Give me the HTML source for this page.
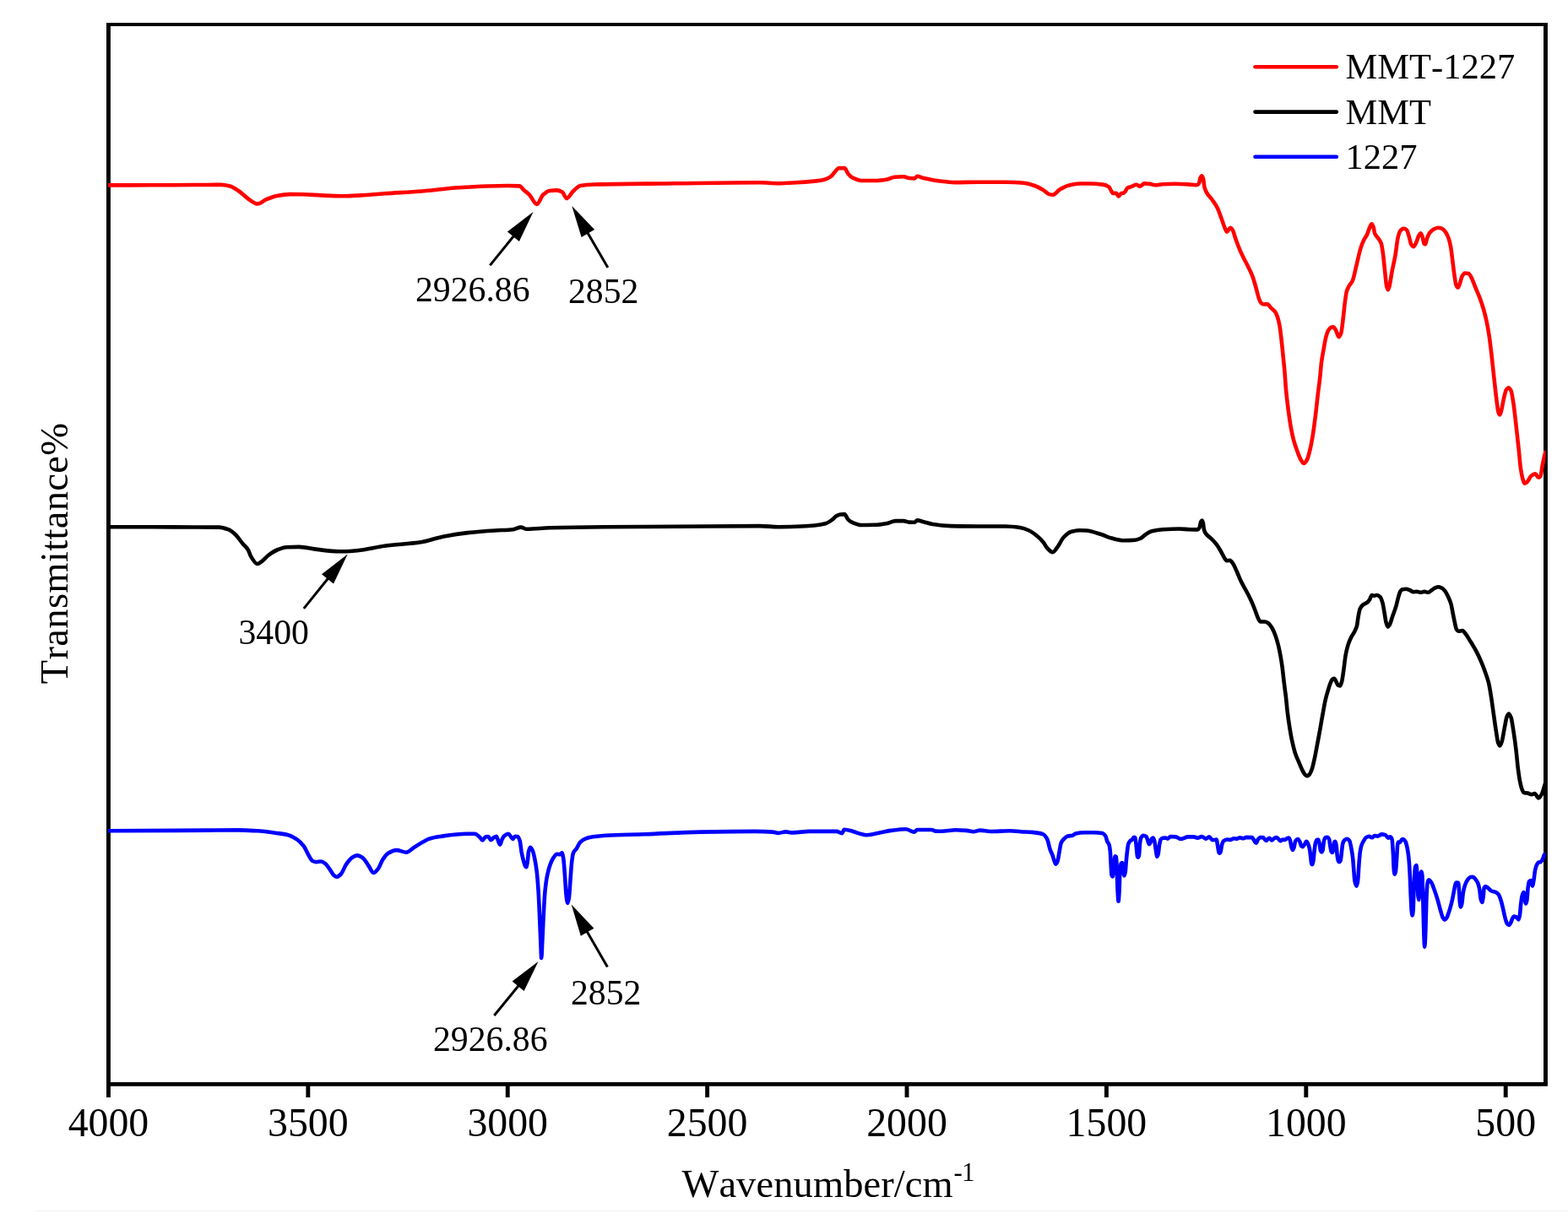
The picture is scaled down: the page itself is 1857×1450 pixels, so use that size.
<!DOCTYPE html>
<html lang="en">
<head>
<meta charset="utf-8">
<title>FTIR spectra: MMT-1227, MMT, 1227</title>
<style>
html,body{margin:0;padding:0;background:#fff;}
body{width:1857px;height:1450px;overflow:hidden;}
svg{display:block;}
text{font-family:"Liberation Serif",serif;fill:#000;font-kerning:none;}
.tick{font-size:47.8px;text-anchor:middle;}
.title{font-size:46.5px;}
.leg{font-size:42.5px;}
.ann{font-size:41.7px;}
.curve{fill:none;stroke-width:4.6;stroke-linejoin:round;stroke-linecap:butt;}
</style>
</head>
<body>
<svg width="1857" height="1450" viewBox="0 0 1857 1450">
<rect x="0" y="0" width="1857" height="1450" fill="#fff"/>
<rect x="42" y="1434" width="1815" height="1" fill="#f0f0f0"/>
<g stroke="#000" fill="none"><line x1="126.00" y1="28.95" x2="1832.91" y2="28.95" stroke-width="4.1"/><line x1="126.00" y1="1284.43" x2="1832.91" y2="1284.43" stroke-width="4.8"/><line x1="128.45" y1="28.95" x2="128.45" y2="1284.43" stroke-width="4.9"/><line x1="1830.46" y1="28.95" x2="1830.46" y2="1284.43" stroke-width="4.9"/><line x1="128.45" y1="1284.43" x2="128.45" y2="1300" stroke-width="4.9"/><line x1="364.84" y1="1284.43" x2="364.84" y2="1300" stroke-width="4.9"/><line x1="601.23" y1="1284.43" x2="601.23" y2="1300" stroke-width="4.9"/><line x1="837.62" y1="1284.43" x2="837.62" y2="1300" stroke-width="4.9"/><line x1="1074.01" y1="1284.43" x2="1074.01" y2="1300" stroke-width="4.9"/><line x1="1310.40" y1="1284.43" x2="1310.40" y2="1300" stroke-width="4.9"/><line x1="1546.79" y1="1284.43" x2="1546.79" y2="1300" stroke-width="4.9"/><line x1="1783.18" y1="1284.43" x2="1783.18" y2="1300" stroke-width="4.9"/></g>
<text class="tick" x="128.45" y="1346">4000</text>
<text class="tick" x="364.84" y="1346">3500</text>
<text class="tick" x="601.23" y="1346">3000</text>
<text class="tick" x="837.62" y="1346">2500</text>
<text class="tick" x="1074.01" y="1346">2000</text>
<text class="tick" x="1310.40" y="1346">1500</text>
<text class="tick" x="1546.79" y="1346">1000</text>
<text class="tick" x="1783.18" y="1346">500</text>
<defs><clipPath id="plotclip"><rect x="127.9" y="20" width="1702.6" height="1270"/></clipPath></defs><g class="curves" clip-path="url(#plotclip)"><path class="curve" stroke="#ff0000" d="M127.9,219.4C145.3,219.4 162.6,219.4 180.0,219.3C196.7,219.3 213.3,219.1 230.0,219.0C240.5,219.0 251.1,218.9 261.6,218.9C265.2,218.9 268.7,219.6 272.3,220.4C275.9,221.2 279.5,224.1 283.1,226.5C287.0,229.1 291.0,233.7 294.9,236.2C298.3,238.4 301.7,241.5 305.1,241.5C308.5,241.5 312.0,237.6 315.4,236.2C319.7,234.4 324.0,232.7 328.3,231.9C333.3,231.0 338.4,230.1 343.4,230.1C348.4,230.1 353.5,230.2 358.5,230.3C365.7,230.4 372.8,231.1 380.0,231.4C388.6,231.8 397.3,232.3 405.9,232.3C413.1,232.3 420.2,231.8 427.4,231.4C436.7,230.9 446.1,229.9 455.4,229.3C470.3,228.3 485.1,227.6 500.0,226.5C514.4,225.4 528.7,223.0 543.1,222.2C562.5,221.1 581.8,220.0 601.2,220.0C605.9,220.0 610.5,220.1 615.2,220.4C617.0,220.5 618.8,223.8 620.6,225.4C622.8,227.3 624.9,228.6 627.1,230.8C630.0,233.7 632.8,242.0 635.7,242.0C638.2,242.0 640.7,233.0 643.2,230.8C645.7,228.5 648.3,226.3 650.8,226.0C653.7,225.6 656.5,225.4 659.4,225.4C661.6,225.4 663.7,226.3 665.9,227.5C667.7,228.5 669.4,235.1 671.2,235.1C673.7,235.1 676.3,228.8 678.8,226.5C681.7,223.9 684.5,220.5 687.4,220.0C693.1,219.0 698.9,218.7 704.6,218.5C736.4,217.7 768.2,217.7 800.0,217.3C833.3,216.9 866.7,216.3 900.0,216.3C907.2,216.3 914.3,217.2 921.5,217.2C928.7,217.2 935.9,216.7 943.1,216.3C950.3,215.9 957.4,215.3 964.6,214.6C968.2,214.2 971.8,213.9 975.4,213.1C978.3,212.5 981.1,211.1 984.0,209.2C985.8,208.0 987.6,204.6 989.4,202.8C990.8,201.4 992.3,199.1 993.7,199.1C995.9,199.1 998.0,199.1 1000.2,199.1C1001.6,199.1 1003.1,204.4 1004.5,206.0C1006.3,208.1 1008.1,209.8 1009.9,210.7C1013.5,212.4 1017.0,214.0 1020.6,214.0C1025.6,214.0 1030.7,214.0 1035.7,214.0C1040.7,214.0 1045.8,213.3 1050.8,212.5C1053.7,212.0 1056.5,209.9 1059.4,209.7C1063.0,209.4 1066.6,209.2 1070.2,209.2C1072.3,209.2 1074.5,210.8 1076.6,211.0C1078.8,211.2 1080.9,211.4 1083.1,211.4C1084.2,211.4 1085.2,208.8 1086.3,208.8C1088.8,208.8 1091.4,210.4 1093.9,211.0C1099.6,212.3 1105.4,213.5 1111.1,214.2C1117.6,215.0 1124.0,216.1 1130.5,216.1C1139.8,216.1 1149.2,215.7 1158.5,215.7C1169.3,215.7 1180.0,215.7 1190.8,215.7C1198.0,215.7 1205.1,216.2 1212.3,216.8C1216.6,217.2 1221.0,218.5 1225.3,220.0C1228.9,221.2 1232.4,223.2 1236.0,225.4C1238.2,226.7 1240.3,229.5 1242.5,230.1C1243.9,230.5 1245.4,230.8 1246.8,230.8C1249.7,230.8 1252.5,225.9 1255.4,224.3C1259.0,222.2 1262.6,220.2 1266.2,219.4C1270.5,218.4 1274.8,217.5 1279.1,217.5C1283.0,217.5 1286.9,217.5 1290.8,217.5C1295.8,217.5 1300.8,217.9 1305.8,218.6C1308.3,218.9 1310.9,219.7 1313.4,221.5C1314.3,222.1 1315.2,225.0 1316.1,226.3C1316.8,227.3 1317.5,229.0 1318.2,229.0C1319.5,229.0 1320.7,228.8 1322.0,228.8C1322.9,228.8 1323.8,232.6 1324.7,232.6C1325.8,232.6 1326.8,229.3 1327.9,229.0C1329.0,228.7 1330.1,228.8 1331.2,228.5C1332.6,228.1 1334.1,223.3 1335.5,222.5C1337.1,221.6 1338.7,221.5 1340.3,220.9C1342.1,220.3 1343.9,218.8 1345.7,218.8C1347.1,218.8 1348.6,220.7 1350.0,220.7C1351.8,220.7 1353.6,217.4 1355.4,217.4C1357.6,217.4 1359.7,217.7 1361.9,217.9C1364.0,218.1 1366.2,219.3 1368.3,219.3C1371.2,219.3 1374.0,218.4 1376.9,218.2C1381.9,217.9 1387.0,217.7 1392.0,217.7C1397.0,217.7 1402.1,218.1 1407.1,218.4C1410.3,218.6 1413.6,219.3 1416.8,219.3C1417.9,219.3 1418.9,218.5 1420.0,217.2C1420.5,216.5 1421.1,211.9 1421.6,210.7C1422.1,209.5 1422.7,208.2 1423.2,208.2C1423.8,208.2 1424.3,209.6 1424.9,211.2C1425.4,212.7 1426.0,220.0 1426.5,222.0C1427.4,225.3 1428.3,226.9 1429.2,228.5C1431.2,231.9 1433.1,233.3 1435.1,236.0C1437.2,238.9 1439.4,241.6 1441.5,245.7C1443.3,249.2 1445.1,254.9 1446.9,259.7C1448.3,263.5 1449.8,268.5 1451.2,271.5C1451.8,272.8 1452.5,274.8 1453.1,274.8C1453.7,274.8 1454.4,272.8 1455.0,272.1C1455.7,271.2 1456.5,269.9 1457.2,269.9C1458.1,269.9 1459.0,271.3 1459.9,272.6C1461.0,274.2 1462.0,279.3 1463.1,282.3C1464.9,287.4 1466.7,292.1 1468.5,296.3C1469.8,299.4 1471.2,302.3 1472.5,305.0C1474.1,308.2 1475.6,310.8 1477.2,314.0C1479.2,318.0 1481.2,321.7 1483.2,326.9C1484.6,330.7 1486.1,335.9 1487.5,340.9C1488.6,344.6 1489.6,349.9 1490.7,352.8C1491.6,355.3 1492.5,357.9 1493.4,358.7C1494.5,359.7 1495.5,360.5 1496.6,360.5C1498.0,360.5 1499.5,360.3 1500.9,360.3C1502.3,360.3 1503.8,363.2 1505.2,364.6C1507.0,366.4 1508.8,367.3 1510.6,370.0C1511.5,371.3 1512.4,373.7 1513.3,376.5C1514.0,378.8 1514.8,382.1 1515.5,386.2C1516.2,390.1 1516.9,396.3 1517.6,402.3C1518.3,408.6 1519.1,416.6 1519.8,423.9C1520.3,429.2 1520.9,433.9 1521.4,440.0C1521.9,446.1 1522.5,455.7 1523.0,461.5C1523.9,471.2 1524.8,478.3 1525.7,485.2C1526.8,493.4 1527.8,501.0 1528.9,506.8C1530.0,512.8 1531.1,517.9 1532.2,521.9C1533.6,527.1 1535.1,531.0 1536.5,534.8C1537.9,538.6 1539.4,542.8 1540.8,545.0C1541.9,546.8 1543.1,549.0 1544.2,549.0C1545.4,549.0 1546.6,547.0 1547.8,545.0C1549.0,542.9 1550.3,537.7 1551.5,532.6C1552.6,528.1 1553.7,522.1 1554.8,515.4C1555.9,508.9 1556.9,500.3 1558.0,491.7C1559.1,483.1 1560.1,472.5 1561.2,463.7C1561.9,458.2 1562.5,454.0 1563.2,448.0C1563.8,442.6 1564.4,433.8 1565.0,429.2C1565.9,422.2 1566.8,418.1 1567.7,413.1C1568.6,408.1 1569.5,402.4 1570.4,399.1C1571.3,395.8 1572.2,393.0 1573.1,391.5C1574.2,389.7 1575.2,388.2 1576.3,387.8C1577.2,387.5 1578.1,387.2 1579.0,387.2C1580.1,387.2 1581.1,389.7 1582.2,391.5C1583.3,393.4 1584.4,399.1 1585.5,399.1C1586.4,399.1 1587.3,397.1 1588.2,394.8C1589.1,392.5 1590.0,382.7 1590.9,375.4C1591.5,370.8 1592.0,364.4 1592.6,360.0C1593.3,354.4 1594.1,348.1 1594.8,345.5C1595.7,342.3 1596.6,340.8 1597.5,339.1C1598.9,336.4 1600.4,335.7 1601.8,332.6C1603.3,329.4 1604.7,321.2 1606.2,315.4C1608.0,308.4 1609.7,299.5 1611.5,293.9C1612.6,290.4 1613.7,287.5 1614.8,285.2C1616.2,282.2 1617.7,280.8 1619.1,277.7C1620.2,275.4 1621.2,271.3 1622.3,269.1C1623.0,267.6 1623.8,265.3 1624.5,265.3C1625.2,265.3 1625.9,267.2 1626.6,269.1C1627.1,270.5 1627.7,275.3 1628.2,276.6C1629.5,279.6 1630.7,280.0 1632.0,282.0C1633.3,284.0 1634.5,285.0 1635.8,288.5C1636.5,290.4 1637.2,295.4 1637.9,300.3C1638.6,305.4 1639.4,314.2 1640.1,320.8C1640.8,327.1 1641.5,336.4 1642.2,339.1C1642.8,341.3 1643.3,343.4 1643.9,343.4C1644.4,343.4 1645.0,341.0 1645.5,339.1C1646.6,335.3 1647.6,326.4 1648.7,320.8C1650.0,314.2 1651.2,309.7 1652.5,302.5C1653.6,296.5 1654.6,285.0 1655.7,280.9C1656.6,277.4 1657.5,274.5 1658.4,273.4C1659.7,271.9 1660.9,270.7 1662.2,270.7C1663.4,270.7 1664.7,271.3 1665.9,272.3C1666.8,273.0 1667.7,277.0 1668.6,279.8C1669.5,282.6 1670.4,288.1 1671.3,289.5C1672.2,290.9 1673.1,292.2 1674.0,292.2C1675.1,292.2 1676.1,289.4 1677.2,287.4C1678.3,285.3 1679.4,280.5 1680.5,278.8C1681.2,277.7 1681.9,276.4 1682.6,276.4C1683.3,276.4 1684.1,278.8 1684.8,280.9C1685.3,282.5 1685.9,287.9 1686.4,288.5C1686.9,289.1 1687.5,289.5 1688.0,289.5C1688.7,289.5 1689.5,283.9 1690.2,282.0C1691.3,279.2 1692.3,276.8 1693.4,275.5C1695.2,273.4 1697.0,272.0 1698.8,271.2C1700.2,270.5 1701.7,269.8 1703.1,269.8C1704.5,269.8 1706.0,270.2 1707.4,270.7C1708.8,271.2 1710.3,272.7 1711.7,274.5C1713.0,276.1 1714.2,278.6 1715.5,282.0C1716.4,284.4 1717.3,288.0 1718.2,292.8C1718.9,296.5 1719.6,303.5 1720.3,308.9C1721.0,314.6 1721.8,321.4 1722.5,326.2C1723.2,330.8 1723.9,336.5 1724.6,338.0C1725.3,339.4 1725.9,340.7 1726.6,340.7C1727.4,340.7 1728.1,337.8 1728.9,335.9C1729.8,333.6 1730.7,328.7 1731.6,327.2C1732.7,325.3 1733.8,323.5 1734.9,323.5C1736.3,323.5 1737.8,323.7 1739.2,324.0C1740.4,324.3 1741.7,327.1 1742.9,329.4C1744.3,332.0 1745.8,336.7 1747.2,340.2C1749.0,344.6 1750.8,348.3 1752.6,353.1C1754.0,356.9 1755.5,361.1 1756.9,366.0C1758.0,369.8 1759.1,373.9 1760.2,378.9C1761.4,384.2 1762.5,390.5 1763.7,398.2C1764.7,404.8 1765.7,413.8 1766.7,422.5C1767.7,431.4 1768.8,442.1 1769.8,451.3C1770.8,460.2 1771.8,469.9 1772.8,477.1C1773.4,481.4 1774.0,486.9 1774.6,488.5C1775.2,490.1 1775.7,491.5 1776.3,491.5C1776.9,491.5 1777.5,488.4 1778.1,486.2C1779.1,482.5 1780.2,475.0 1781.2,471.0C1782.2,467.1 1783.2,462.5 1784.2,461.2C1785.0,460.2 1785.7,459.2 1786.5,459.2C1787.5,459.2 1788.5,460.8 1789.5,462.7C1790.5,464.6 1791.5,472.1 1792.5,478.6C1793.5,485.3 1794.6,495.4 1795.6,504.4C1796.6,513.1 1797.6,522.2 1798.6,531.7C1799.4,539.0 1800.1,549.2 1800.9,554.5C1801.7,559.8 1802.4,563.8 1803.2,566.6C1803.9,569.3 1804.7,572.7 1805.4,572.7C1806.4,572.7 1807.5,571.9 1808.5,571.1C1810.0,570.0 1811.5,565.6 1813.0,564.3C1814.8,562.8 1816.5,561.3 1818.3,561.3C1819.6,561.3 1820.8,565.8 1822.1,565.8C1822.9,565.8 1823.6,565.2 1824.4,564.3C1825.2,563.4 1825.9,555.4 1826.7,551.4C1827.4,547.6 1828.2,543.9 1828.9,540.8C1829.5,538.3 1830.1,536.3 1830.7,534.0"/><path class="curve" stroke="#000000" d="M127.9,624.2C145.3,624.2 162.6,624.3 180.0,624.3C196.7,624.3 213.3,624.4 230.0,624.5C239.8,624.5 249.6,624.5 259.4,624.6C263.0,624.6 266.6,625.9 270.2,627.2C273.1,628.2 275.9,630.6 278.8,633.2C281.7,635.8 284.5,640.6 287.4,644.0C289.6,646.6 291.7,648.0 293.9,651.5C295.0,653.2 296.0,657.4 297.1,659.1C299.7,663.3 302.2,668.0 304.8,668.0C306.5,668.0 308.3,666.3 310.0,665.1C312.5,663.4 315.1,659.9 317.6,658.0C321.2,655.3 324.7,652.9 328.3,651.5C331.9,650.1 335.5,648.5 339.1,648.3C344.1,648.0 349.2,647.9 354.2,647.9C361.4,647.9 368.5,650.1 375.7,650.9C384.3,651.9 393.0,653.3 401.6,653.3C408.8,653.3 415.9,652.7 423.1,652.2C433.9,651.4 444.6,648.2 455.4,646.8C470.3,644.8 485.1,644.3 500.0,641.9C508.6,640.5 517.2,637.0 525.8,635.4C535.2,633.6 544.5,632.1 553.9,631.1C564.7,630.0 575.4,629.2 586.2,628.5C593.4,628.0 600.5,628.0 607.7,627.2C610.8,626.9 613.9,624.6 617.0,624.6C619.3,624.6 621.6,626.8 623.9,626.8C632.9,626.8 641.8,625.6 650.8,625.3C672.3,624.7 693.9,624.4 715.4,624.2C744.1,624.0 772.9,624.0 801.6,623.8C834.4,623.6 867.2,623.1 900.0,623.1C907.2,623.1 914.3,624.2 921.5,624.2C928.7,624.2 935.9,624.0 943.1,623.8C950.3,623.6 957.4,623.2 964.6,622.5C968.9,622.1 973.2,621.5 977.5,620.3C980.0,619.6 982.6,617.8 985.1,616.0C986.9,614.8 988.7,612.3 990.5,611.3C991.9,610.5 993.4,609.7 994.8,609.5C996.6,609.3 998.4,609.1 1000.2,609.1C1001.6,609.1 1003.1,614.3 1004.5,615.6C1006.3,617.3 1008.1,618.4 1009.9,619.2C1013.1,620.5 1016.3,622.0 1019.5,622.0C1024.9,622.0 1030.3,621.9 1035.7,621.8C1040.7,621.7 1045.8,620.8 1050.8,619.9C1054.0,619.3 1057.3,617.1 1060.5,617.1C1063.7,617.1 1067.0,617.1 1070.2,617.1C1072.3,617.1 1074.5,618.5 1076.6,618.6C1078.8,618.7 1080.9,618.8 1083.1,618.8C1084.2,618.8 1085.2,616.4 1086.3,616.4C1088.8,616.4 1091.4,617.6 1093.9,618.2C1097.5,619.1 1101.0,620.5 1104.6,621.0C1111.8,622.1 1119.0,622.9 1126.2,623.1C1137.0,623.3 1147.7,623.5 1158.5,623.5C1169.3,623.5 1180.0,623.5 1190.8,623.5C1196.5,623.5 1202.3,624.2 1208.0,625.0C1211.6,625.5 1215.2,626.9 1218.8,628.5C1221.7,629.8 1224.5,632.0 1227.4,634.3C1230.3,636.6 1233.1,639.4 1236.0,642.9C1237.4,644.7 1238.9,648.0 1240.3,649.4C1242.5,651.6 1244.6,654.1 1246.8,654.1C1248.6,654.1 1250.4,650.6 1252.2,648.3C1254.7,645.1 1257.2,639.1 1259.7,636.5C1262.6,633.5 1265.4,630.8 1268.3,630.0C1271.9,629.0 1275.4,628.2 1279.0,628.2C1281.5,628.2 1284.0,628.3 1286.5,628.5C1292.6,628.9 1298.7,631.4 1304.8,633.3C1308.7,634.5 1312.7,636.6 1316.6,637.6C1321.6,638.8 1326.7,640.3 1331.7,640.3C1336.0,640.3 1340.3,640.1 1344.6,639.8C1346.8,639.6 1348.9,638.6 1351.1,637.6C1352.9,636.7 1354.7,634.5 1356.5,633.3C1359.0,631.7 1361.5,630.0 1364.0,629.3C1368.3,628.2 1372.6,627.5 1376.9,627.2C1383.4,626.8 1389.8,626.5 1396.3,626.5C1400.6,626.5 1404.9,627.1 1409.2,627.2C1412.3,627.3 1415.3,627.4 1418.4,627.4C1419.1,627.4 1419.8,626.4 1420.5,625.2C1421.1,624.2 1421.6,619.2 1422.2,618.2C1422.6,617.4 1423.1,616.6 1423.5,616.6C1424.0,616.6 1424.4,618.1 1424.9,619.8C1425.2,621.0 1425.6,626.2 1425.9,627.4C1426.6,630.1 1427.4,631.2 1428.1,632.2C1430.1,634.9 1432.0,635.7 1434.0,637.6C1436.2,639.7 1438.3,641.8 1440.5,644.6C1442.3,646.9 1444.1,650.1 1445.9,653.2C1447.5,655.9 1449.1,659.8 1450.7,661.9C1451.4,662.8 1452.2,664.2 1452.9,664.2C1454.1,664.2 1455.4,663.8 1456.6,663.8C1457.7,663.8 1458.8,665.7 1459.9,667.2C1461.7,669.6 1463.4,674.1 1465.2,678.0C1466.7,681.3 1468.2,685.5 1469.7,688.6C1471.9,693.1 1474.0,696.3 1476.2,700.5C1478.3,704.6 1480.5,708.6 1482.6,713.4C1484.0,716.6 1485.5,720.5 1486.9,724.2C1488.0,727.0 1489.1,730.8 1490.2,732.8C1491.1,734.4 1491.9,736.5 1492.8,736.5C1494.4,736.5 1496.1,736.5 1497.7,736.5C1499.1,736.5 1500.6,737.3 1502.0,738.2C1503.4,739.1 1504.9,741.2 1506.3,743.5C1507.7,745.8 1509.2,749.3 1510.6,753.2C1511.7,756.1 1512.7,759.8 1513.8,764.0C1514.7,767.6 1515.6,772.0 1516.5,776.9C1517.2,780.9 1518.0,785.5 1518.7,790.9C1519.2,794.9 1519.8,800.4 1520.3,804.9C1520.8,809.4 1521.4,813.7 1521.9,817.9C1522.3,820.8 1522.6,823.1 1523.0,826.2C1523.5,830.8 1524.1,837.8 1524.6,842.3C1525.5,850.0 1526.4,856.0 1527.3,861.7C1528.2,867.4 1529.1,872.6 1530.0,876.8C1531.3,882.7 1532.5,888.0 1533.8,891.9C1535.4,896.8 1537.0,899.9 1538.6,903.7C1540.0,907.1 1541.5,910.8 1542.9,913.4C1543.8,915.1 1544.7,916.8 1545.6,917.7C1546.3,918.4 1547.1,919.3 1547.8,919.3C1548.7,919.3 1549.6,918.5 1550.5,917.7C1551.6,916.7 1552.6,914.1 1553.7,911.2C1554.8,908.3 1555.8,903.1 1556.9,898.3C1558.0,893.3 1559.1,886.9 1560.2,881.1C1561.3,875.5 1562.3,869.8 1563.4,863.9C1564.5,858.0 1565.5,851.3 1566.6,845.5C1567.7,839.5 1568.8,833.0 1569.9,828.3C1570.8,824.6 1571.6,821.8 1572.5,818.9C1573.4,815.9 1574.3,812.5 1575.2,810.3C1576.1,808.1 1577.0,805.6 1577.9,804.9C1578.6,804.4 1579.4,803.9 1580.1,803.9C1581.0,803.9 1581.9,806.7 1582.8,808.2C1583.5,809.4 1584.2,811.6 1584.9,811.9C1585.6,812.2 1586.4,812.5 1587.1,812.5C1587.8,812.5 1588.5,809.7 1589.2,807.1C1589.9,804.4 1590.7,798.2 1591.4,793.1C1592.1,788.2 1592.8,780.9 1593.5,776.9C1594.4,771.8 1595.3,768.0 1596.2,765.1C1597.5,761.0 1598.7,758.0 1600.0,755.4C1601.4,752.4 1602.9,750.8 1604.3,747.9C1605.2,746.1 1606.1,744.7 1607.0,741.4C1607.5,739.4 1608.1,733.5 1608.6,730.6C1609.3,726.6 1610.1,722.5 1610.8,720.9C1611.9,718.6 1612.9,717.5 1614.0,716.6C1615.8,715.1 1617.6,715.1 1619.4,713.6C1620.3,712.9 1621.2,711.6 1622.1,710.2C1623.0,708.8 1623.9,705.0 1624.8,705.0C1625.7,705.0 1626.6,705.7 1627.5,705.7C1628.6,705.7 1629.7,705.0 1630.8,705.0C1632.1,705.0 1633.4,706.1 1634.7,707.4C1635.6,708.3 1636.5,711.1 1637.4,714.2C1638.1,716.7 1638.9,722.0 1639.6,726.0C1640.3,729.8 1641.0,735.5 1641.7,737.8C1642.4,740.0 1643.0,742.6 1643.7,742.6C1644.4,742.6 1645.1,741.2 1645.8,740.0C1647.0,738.0 1648.1,733.2 1649.3,729.8C1650.6,726.0 1652.0,722.8 1653.3,718.4C1654.3,715.1 1655.3,709.9 1656.3,706.6C1657.0,704.2 1657.8,701.4 1658.5,700.4C1659.3,699.3 1660.1,698.4 1660.9,698.2C1662.3,697.9 1663.8,697.7 1665.2,697.7C1666.6,697.7 1668.1,698.5 1669.5,699.0C1671.0,699.6 1672.4,701.2 1673.9,701.2C1675.3,701.2 1676.8,700.9 1678.2,700.9C1679.6,700.9 1681.1,701.8 1682.5,701.8C1683.9,701.8 1685.4,700.9 1686.8,700.9C1688.4,700.9 1690.0,701.8 1691.6,701.8C1692.9,701.8 1694.1,700.1 1695.4,699.3C1696.8,698.3 1698.3,697.0 1699.7,696.4C1701.0,695.9 1702.2,695.3 1703.5,695.3C1704.7,695.3 1706.0,695.9 1707.2,696.4C1708.6,697.0 1710.1,698.6 1711.5,700.4C1712.8,702.0 1714.0,704.7 1715.3,707.4C1716.4,709.8 1717.5,712.1 1718.6,716.0C1719.3,718.5 1720.0,723.3 1720.7,726.8C1721.4,730.5 1722.2,734.3 1722.9,737.5C1723.6,740.5 1724.3,744.5 1725.0,745.6C1725.7,746.8 1726.5,747.8 1727.2,747.8C1728.8,747.8 1730.4,747.0 1732.0,747.0C1733.3,747.0 1734.5,749.4 1735.8,751.0C1737.8,753.4 1739.7,757.0 1741.7,760.2C1744.2,764.3 1746.7,768.3 1749.2,773.1C1751.0,776.6 1752.8,780.6 1754.6,784.9C1756.0,788.1 1757.3,791.7 1758.7,795.5C1760.1,799.5 1761.6,803.0 1763.0,808.8C1764.0,812.8 1765.0,819.3 1766.0,825.5C1767.0,831.7 1768.0,839.7 1769.0,846.7C1770.0,853.9 1771.1,861.7 1772.1,868.0C1772.8,872.5 1773.6,878.2 1774.3,880.1C1775.0,881.8 1775.6,883.5 1776.3,883.5C1777.1,883.5 1777.8,880.8 1778.6,878.6C1779.7,875.4 1780.8,867.3 1781.9,861.9C1782.8,857.5 1783.7,851.1 1784.6,849.0C1785.3,847.3 1786.1,845.5 1786.8,845.5C1787.7,845.5 1788.6,847.6 1789.5,849.8C1790.5,852.3 1791.5,860.2 1792.5,866.5C1793.5,873.0 1794.6,880.5 1795.6,889.2C1796.3,895.4 1797.1,904.8 1797.8,910.5C1798.6,916.5 1799.3,921.8 1800.1,925.6C1800.9,929.4 1801.6,932.8 1802.4,934.7C1803.2,936.6 1803.9,938.8 1804.7,939.0C1806.2,939.4 1807.7,939.3 1809.2,939.6C1810.7,939.9 1812.3,941.1 1813.8,941.1C1815.1,941.1 1816.3,940.0 1817.6,940.0C1819.1,940.0 1820.6,945.4 1822.1,945.4C1823.4,945.4 1824.6,943.0 1825.9,940.8C1826.9,939.0 1827.9,934.8 1828.9,931.7C1829.5,929.8 1830.1,927.9 1830.7,926.0"/><path class="curve" stroke="#0000ff" d="M127.9,984.3C154.5,984.2 181.1,984.1 207.7,983.9C232.8,983.8 258.0,983.4 283.1,983.4C290.3,983.4 297.4,983.9 304.6,984.3C311.8,984.7 319.0,985.7 326.2,986.7C331.2,987.4 336.2,987.9 341.2,989.2C344.8,990.1 348.4,992.2 352.0,994.6C354.5,996.3 357.1,998.9 359.6,1002.2C361.7,1005.0 363.9,1010.6 366.0,1014.0C367.4,1016.3 368.9,1019.4 370.3,1020.0C371.7,1020.6 373.2,1021.1 374.6,1021.1C376.4,1021.1 378.2,1020.5 380.0,1020.5C381.8,1020.5 383.6,1021.8 385.4,1023.1C387.2,1024.4 389.0,1027.7 390.8,1030.2C392.2,1032.2 393.7,1035.4 395.1,1036.6C396.3,1037.6 397.6,1038.8 398.8,1038.8C400.4,1038.8 402.1,1037.1 403.7,1035.5C405.9,1033.4 408.0,1026.8 410.2,1023.7C412.3,1020.7 414.5,1017.5 416.6,1016.2C418.8,1014.8 420.9,1013.4 423.1,1013.4C425.3,1013.4 427.4,1014.8 429.6,1016.2C431.7,1017.6 433.9,1021.9 436.0,1024.8C438.2,1027.8 440.3,1034.0 442.5,1034.0C444.3,1034.0 446.1,1031.3 447.9,1029.1C449.7,1026.9 451.5,1021.0 453.3,1018.3C455.4,1015.1 457.6,1012.1 459.7,1010.8C462.9,1008.9 466.2,1007.1 469.4,1007.1C473.4,1007.1 477.3,1009.7 481.3,1009.7C484.2,1009.7 487.0,1006.1 489.9,1004.3C493.5,1002.0 497.1,999.4 500.7,997.5C503.7,995.9 506.7,994.1 509.7,993.3C514.0,992.1 518.3,991.5 522.6,990.8C527.8,990.0 533.0,989.1 538.2,988.7C542.9,988.3 547.7,987.8 552.4,987.8C555.6,987.8 558.9,987.8 562.1,987.8C564.0,987.8 566.0,989.8 567.9,991.4C569.1,992.4 570.3,995.5 571.5,995.5C572.7,995.5 573.8,991.7 575.0,991.4C576.1,991.2 577.1,991.0 578.2,991.0C579.3,991.0 580.4,995.2 581.5,995.2C582.6,995.2 583.6,993.0 584.7,992.3C585.8,991.6 586.8,990.8 587.9,990.8C588.8,990.8 589.6,995.6 590.5,997.5C591.1,998.7 591.6,1000.7 592.2,1000.7C592.9,1000.7 593.7,996.4 594.4,994.9C595.3,993.1 596.1,991.1 597.0,990.4C598.7,989.0 600.4,987.8 602.1,987.8C603.2,987.8 604.3,990.4 605.4,991.7C606.0,992.4 606.7,993.9 607.3,993.9C608.2,993.9 609.0,990.8 609.9,990.8C611.0,990.8 612.0,990.9 613.1,991.0C614.0,991.1 614.8,993.4 615.7,996.2C616.3,998.2 617.0,1005.6 617.6,1009.1C618.3,1012.7 618.9,1015.6 619.6,1018.2C620.2,1020.6 620.9,1023.2 621.5,1024.6C622.0,1025.8 622.6,1027.2 623.1,1027.2C623.7,1027.2 624.2,1023.9 624.8,1020.7C625.2,1018.5 625.6,1010.8 626.0,1009.1C626.7,1006.2 627.3,1003.9 628.0,1003.9C628.9,1003.9 629.7,1005.6 630.6,1007.2C631.5,1008.8 632.3,1012.9 633.2,1016.9C634.0,1020.8 634.9,1025.5 635.7,1032.4C636.4,1038.0 637.0,1046.4 637.7,1056.9C638.2,1064.8 638.7,1077.9 639.2,1089.2C639.6,1097.5 639.9,1106.7 640.3,1115.1C640.6,1121.9 640.9,1135.0 641.2,1135.0C641.6,1135.0 641.9,1122.3 642.3,1115.1C642.7,1107.2 643.1,1096.9 643.5,1089.2C644.1,1077.0 644.8,1063.6 645.4,1056.9C646.3,1047.7 647.1,1041.8 648.0,1037.5C649.3,1031.0 650.6,1026.6 651.9,1023.3C653.2,1020.0 654.5,1017.4 655.8,1015.6C657.1,1013.9 658.3,1011.7 659.6,1011.7C660.7,1011.7 661.8,1012.3 662.9,1012.3C663.8,1012.3 664.6,1010.4 665.5,1010.4C666.1,1010.4 666.8,1014.3 667.4,1018.2C667.9,1021.5 668.5,1030.5 669.0,1037.5C669.5,1044.5 670.1,1056.6 670.6,1060.8C671.2,1065.3 671.7,1069.9 672.3,1069.9C672.8,1069.9 673.4,1066.7 673.9,1063.4C674.4,1060.3 674.9,1050.5 675.4,1044.0C676.0,1036.7 676.5,1026.7 677.1,1022.0C677.7,1016.7 678.4,1011.9 679.0,1010.4C680.3,1007.3 681.6,1007.2 682.9,1005.2C684.2,1003.2 685.5,999.5 686.8,998.1C688.9,995.9 691.1,994.4 693.2,993.6C696.2,992.4 699.3,991.8 702.3,991.3C707.3,990.5 712.2,990.0 717.2,989.7C733.0,988.8 748.8,988.8 764.6,988.2C786.1,987.4 807.7,986.0 829.2,985.6C850.8,985.2 872.3,984.9 893.9,984.9C901.1,984.9 908.2,985.1 915.4,985.6C917.6,985.7 919.7,986.9 921.9,986.9C924.8,986.9 927.6,985.4 930.5,985.4C933.4,985.4 936.2,986.4 939.1,986.4C945.6,986.4 952.0,984.9 958.5,984.9C969.3,984.9 980.0,984.9 990.8,984.9C992.9,984.9 995.1,987.1 997.2,987.1C998.1,987.1 998.9,982.8 999.8,982.8C1003.3,982.8 1006.7,984.0 1010.2,984.9C1013.1,985.6 1015.9,987.0 1018.8,987.7C1021.3,988.3 1023.8,989.2 1026.3,989.2C1029.5,989.2 1032.8,988.3 1036.0,987.7C1042.5,986.6 1048.9,984.7 1055.4,983.9C1061.1,983.2 1066.9,982.3 1072.6,982.3C1076.1,982.3 1079.5,985.6 1083.0,985.6C1084.1,985.6 1085.1,983.0 1086.2,983.0C1091.9,983.0 1097.6,983.0 1103.3,983.0C1105.0,983.0 1106.7,984.5 1108.4,984.6C1110.6,984.7 1112.7,984.8 1114.9,984.8C1120.5,984.8 1126.1,983.3 1131.7,983.3C1136.0,983.3 1140.3,983.6 1144.6,983.9C1147.4,984.1 1150.2,985.2 1153.0,985.2C1155.6,985.2 1158.2,983.6 1160.8,983.6C1164.9,983.6 1169.0,985.0 1173.1,985.0C1180.8,985.0 1188.6,984.2 1196.3,984.2C1200.6,984.2 1204.9,984.9 1209.2,985.2C1213.5,985.5 1217.9,985.5 1222.2,985.9C1226.5,986.3 1230.8,986.7 1235.1,988.1C1236.8,988.7 1238.6,991.1 1240.3,994.3C1241.4,996.3 1242.4,1002.8 1243.5,1005.9C1244.6,1009.0 1245.6,1010.7 1246.7,1013.7C1247.4,1015.6 1248.0,1018.5 1248.7,1020.1C1249.3,1021.6 1250.0,1023.7 1250.6,1023.7C1251.2,1023.7 1251.9,1021.8 1252.5,1020.1C1253.2,1018.3 1253.8,1013.3 1254.5,1009.8C1255.1,1006.4 1255.8,1001.1 1256.4,999.4C1257.3,997.1 1258.1,995.9 1259.0,994.9C1260.9,992.7 1262.9,990.8 1264.8,990.4C1266.5,990.1 1268.3,990.1 1270.0,989.8C1271.3,989.5 1272.6,987.9 1273.9,987.6C1277.3,986.8 1280.8,986.3 1284.2,986.3C1287.8,986.3 1291.4,986.3 1295.0,986.3C1298.4,986.3 1301.9,986.5 1305.3,987.1C1306.6,987.3 1307.9,988.5 1309.2,990.2C1309.9,991.2 1310.7,995.4 1311.4,997.0C1312.1,998.5 1312.8,998.6 1313.5,1000.5C1313.9,1001.7 1314.4,1004.3 1314.8,1008.3C1315.1,1011.1 1315.4,1019.7 1315.7,1024.6C1316.0,1029.0 1316.2,1035.9 1316.5,1036.7C1316.9,1037.8 1317.2,1038.4 1317.6,1038.4C1318.0,1038.4 1318.3,1035.9 1318.7,1033.2C1319.0,1031.0 1319.3,1022.6 1319.6,1020.3C1320.0,1017.3 1320.4,1014.3 1320.8,1014.3C1321.2,1014.3 1321.5,1014.6 1321.9,1015.1C1322.2,1015.5 1322.4,1023.2 1322.7,1028.9C1323.0,1035.3 1323.3,1049.4 1323.6,1054.8C1323.9,1060.8 1324.3,1067.7 1324.6,1067.7C1324.9,1067.7 1325.3,1060.7 1325.6,1054.8C1325.9,1050.1 1326.1,1036.8 1326.4,1033.2C1326.8,1027.8 1327.2,1023.4 1327.6,1022.9C1328.1,1022.3 1328.5,1022.0 1329.0,1022.0C1329.4,1022.0 1329.9,1028.8 1330.3,1031.5C1330.7,1033.8 1331.0,1037.5 1331.4,1037.5C1331.8,1037.5 1332.3,1035.5 1332.7,1033.2C1333.1,1031.3 1333.4,1024.3 1333.8,1020.3C1334.2,1015.6 1334.7,1010.6 1335.1,1007.4C1335.5,1004.2 1336.0,1000.8 1336.4,999.6C1337.1,997.7 1337.8,996.9 1338.5,996.2C1339.4,995.4 1340.2,995.3 1341.1,994.5C1341.7,994.0 1342.2,991.9 1342.8,991.9C1343.4,991.9 1343.9,992.0 1344.5,992.3C1344.9,992.5 1345.4,999.3 1345.8,1003.1C1346.2,1006.6 1346.6,1013.1 1347.0,1014.3C1347.3,1015.1 1347.5,1015.8 1347.8,1015.8C1348.2,1015.8 1348.5,1014.7 1348.9,1013.4C1349.3,1011.9 1349.7,1001.7 1350.1,998.8C1350.5,995.7 1351.0,993.1 1351.4,992.3C1352.3,990.7 1353.1,989.7 1354.0,989.7C1355.2,989.7 1356.3,990.2 1357.5,991.0C1358.1,991.4 1358.6,993.8 1359.2,995.3C1359.8,996.8 1360.3,1000.1 1360.9,1000.1C1361.5,1000.1 1362.0,999.0 1362.6,997.9C1363.0,997.1 1363.5,994.0 1363.9,993.6C1364.5,993.0 1365.1,992.6 1365.7,992.6C1366.3,992.6 1366.8,994.9 1367.4,997.0C1368.0,999.1 1368.5,1005.1 1369.1,1008.3C1369.5,1010.7 1370.0,1014.7 1370.4,1014.7C1370.8,1014.7 1371.3,1013.2 1371.7,1011.7C1372.1,1010.2 1372.6,1003.8 1373.0,1001.4C1373.6,998.3 1374.1,995.3 1374.7,994.5C1375.4,993.5 1376.2,992.7 1376.9,992.7C1378.0,992.6 1379.2,992.6 1380.3,992.6C1381.2,992.6 1382.0,993.6 1382.9,993.6C1384.0,993.6 1385.2,991.0 1386.3,991.0C1388.3,991.0 1390.4,991.2 1392.4,991.4C1394.5,991.6 1396.7,993.9 1398.8,993.9C1401.5,993.9 1404.3,991.4 1407.0,991.4C1409.3,991.4 1411.6,991.4 1413.9,991.4C1415.3,991.4 1416.8,992.6 1418.2,992.6C1419.9,992.6 1421.7,991.0 1423.4,991.0C1425.0,991.0 1426.5,993.6 1428.1,993.6C1429.4,993.6 1430.7,991.3 1432.0,991.3C1433.4,991.3 1434.9,995.3 1436.3,995.3C1437.7,995.3 1439.2,994.5 1440.6,994.5C1441.2,994.5 1441.7,1000.2 1442.3,1003.1C1442.7,1005.3 1443.2,1009.4 1443.6,1010.0C1443.9,1010.4 1444.2,1010.8 1444.5,1010.8C1444.9,1010.8 1445.4,1009.6 1445.8,1008.3C1446.2,1007.0 1446.7,1001.9 1447.1,1000.5C1447.8,998.3 1448.5,996.7 1449.2,996.2C1450.7,995.2 1452.1,994.5 1453.6,994.5C1454.8,994.5 1455.9,994.9 1457.1,994.9C1458.5,994.9 1460.0,993.2 1461.4,993.2C1462.5,993.2 1463.7,993.6 1464.8,993.6C1466.0,993.6 1467.1,992.3 1468.3,992.3C1469.7,992.3 1471.2,993.2 1472.6,993.2C1473.7,993.2 1474.9,991.9 1476.0,991.9C1478.3,991.9 1480.6,991.9 1482.9,992.1C1483.8,992.2 1484.6,995.0 1485.5,996.2C1486.2,997.2 1487.0,998.8 1487.7,998.8C1488.4,998.8 1489.1,995.4 1489.8,994.5C1490.7,993.4 1491.5,992.1 1492.4,992.1C1493.5,992.1 1494.7,992.1 1495.8,992.1C1496.5,992.1 1497.3,993.8 1498.0,994.5C1498.6,995.1 1499.1,996.0 1499.7,996.0C1500.4,996.0 1501.2,994.1 1501.9,993.6C1502.5,993.2 1503.0,992.7 1503.6,992.7C1504.5,992.7 1505.3,995.5 1506.2,995.5C1507.1,995.5 1507.9,993.7 1508.8,993.2C1509.8,992.7 1510.8,992.1 1511.8,992.1C1512.5,992.1 1513.2,993.0 1513.9,993.6C1514.8,994.3 1515.6,996.2 1516.5,996.2C1517.4,996.2 1518.2,994.5 1519.1,994.5C1520.0,994.5 1520.8,994.9 1521.7,994.9C1522.6,994.9 1523.4,993.5 1524.3,993.2C1525.0,992.9 1525.7,992.6 1526.4,992.6C1527.0,992.6 1527.5,994.5 1528.1,996.2C1528.5,997.5 1529.0,1001.6 1529.4,1003.1C1529.9,1004.9 1530.5,1007.0 1531.0,1007.0C1531.5,1007.0 1532.0,1005.3 1532.5,1003.9C1533.1,1002.3 1533.6,997.0 1534.2,996.2C1535.2,994.8 1536.2,994.0 1537.2,994.0C1537.9,994.0 1538.6,995.7 1539.3,997.0C1539.9,998.2 1540.5,1001.7 1541.1,1002.2C1541.7,1002.7 1542.2,1003.1 1542.8,1003.1C1543.5,1003.1 1544.2,1001.5 1544.9,1000.5C1545.6,999.5 1546.4,996.9 1547.1,996.9C1547.7,996.9 1548.2,997.9 1548.8,998.8C1549.5,1000.0 1550.3,1002.3 1551.0,1005.7C1551.4,1007.7 1551.9,1012.4 1552.3,1016.0C1552.6,1018.2 1552.8,1022.3 1553.1,1022.9C1553.5,1023.7 1553.8,1024.2 1554.2,1024.2C1554.6,1024.2 1554.9,1022.2 1555.3,1020.3C1555.7,1018.1 1556.2,1011.8 1556.6,1008.3C1557.0,1004.8 1557.5,1000.3 1557.9,998.8C1558.5,996.8 1559.0,995.1 1559.6,994.9C1560.2,994.7 1560.7,994.5 1561.3,994.5C1561.7,994.5 1562.2,996.9 1562.6,998.8C1563.0,1000.7 1563.5,1006.1 1563.9,1007.4C1564.3,1008.5 1564.6,1009.5 1565.0,1009.5C1565.5,1009.5 1566.0,1008.6 1566.5,1007.4C1566.9,1006.3 1567.4,998.8 1567.8,997.0C1568.4,994.6 1568.9,992.6 1569.5,992.3C1570.4,991.9 1571.2,991.7 1572.1,991.7C1572.8,991.7 1573.5,992.9 1574.2,994.5C1574.6,995.5 1575.1,1000.7 1575.5,1003.1C1575.9,1005.5 1576.4,1008.5 1576.8,1009.1C1577.2,1009.6 1577.5,1010.0 1577.9,1010.0C1578.3,1010.0 1578.8,1007.8 1579.2,1005.7C1579.5,1004.2 1579.8,998.4 1580.1,997.9C1580.5,997.3 1580.9,996.9 1581.3,996.9C1581.7,996.9 1582.2,999.1 1582.6,1001.4C1583.0,1003.4 1583.3,1010.7 1583.7,1013.4C1584.1,1016.1 1584.4,1018.7 1584.8,1019.5C1585.2,1020.4 1585.6,1021.2 1586.0,1021.2C1586.5,1021.2 1587.1,1020.5 1587.6,1019.5C1588.0,1018.7 1588.5,1013.3 1588.9,1010.0C1589.3,1006.7 1589.8,1001.1 1590.2,999.6C1590.9,997.2 1591.6,995.9 1592.3,995.3C1593.3,994.5 1594.3,993.8 1595.3,993.8C1596.3,993.8 1597.3,994.8 1598.3,996.2C1598.9,997.1 1599.6,1000.8 1600.2,1004.0C1600.8,1007.2 1601.5,1010.6 1602.1,1016.0C1602.6,1020.0 1603.0,1027.7 1603.5,1033.2C1603.8,1036.8 1604.1,1042.1 1604.4,1043.6C1605.1,1047.1 1605.8,1049.6 1606.5,1049.6C1607.0,1049.6 1607.6,1046.8 1608.1,1043.6C1608.5,1041.0 1609.0,1030.1 1609.4,1024.6C1609.8,1019.1 1610.3,1013.1 1610.7,1010.0C1611.3,1006.0 1611.8,1003.1 1612.4,1001.4C1613.3,998.8 1614.1,997.7 1615.0,996.2C1615.9,994.7 1616.7,992.9 1617.6,992.3C1618.9,991.5 1620.1,990.8 1621.4,990.8C1622.6,990.8 1623.7,992.3 1624.9,992.3C1625.9,992.3 1626.9,990.0 1627.9,990.0C1629.1,990.0 1630.2,990.6 1631.4,990.6C1633.1,990.6 1634.8,988.4 1636.5,988.4C1637.9,988.4 1639.4,988.7 1640.8,989.1C1641.8,989.4 1642.9,992.6 1643.9,992.6C1644.7,992.6 1645.6,991.4 1646.4,991.4C1647.1,991.4 1647.9,992.5 1648.6,994.5C1649.0,995.7 1649.5,1004.5 1649.9,1011.7C1650.2,1016.2 1650.4,1025.9 1650.7,1028.9C1651.0,1032.2 1651.3,1035.6 1651.6,1035.6C1652.0,1035.6 1652.5,1034.2 1652.9,1032.4C1653.3,1030.6 1653.8,1022.2 1654.2,1016.0C1654.5,1011.7 1654.8,1003.6 1655.1,1001.4C1655.4,999.4 1655.6,997.5 1655.9,997.5C1656.6,997.5 1657.4,997.9 1658.1,997.9C1658.7,997.9 1659.2,995.4 1659.8,994.9C1660.4,994.4 1660.9,994.0 1661.5,994.0C1662.5,994.0 1663.5,995.4 1664.5,997.0C1665.2,998.2 1666.0,1001.3 1666.7,1004.8C1667.3,1007.8 1668.0,1012.1 1668.6,1018.6C1669.0,1022.7 1669.4,1029.8 1669.8,1037.5C1670.1,1043.3 1670.4,1052.5 1670.7,1059.1C1671.0,1065.7 1671.3,1074.3 1671.6,1077.5C1671.9,1081.0 1672.3,1084.5 1672.6,1084.5C1673.0,1084.5 1673.3,1081.6 1673.7,1077.5C1673.9,1074.9 1674.2,1061.2 1674.4,1054.8C1674.6,1048.4 1674.9,1041.5 1675.1,1038.0C1675.5,1032.5 1675.8,1027.3 1676.2,1026.5C1676.6,1025.6 1677.1,1025.0 1677.5,1025.0C1677.8,1025.0 1678.1,1032.7 1678.4,1038.0C1678.7,1043.9 1679.1,1058.3 1679.4,1061.0C1679.7,1063.7 1680.1,1066.0 1680.4,1066.0C1680.7,1066.0 1681.0,1055.0 1681.3,1050.0C1681.6,1045.0 1681.9,1037.6 1682.2,1036.0C1682.6,1034.1 1682.9,1032.6 1683.3,1032.6C1683.6,1032.6 1684.0,1033.9 1684.3,1036.0C1684.5,1037.5 1684.8,1046.6 1685.0,1053.9C1685.3,1062.2 1685.5,1076.4 1685.8,1086.2C1686.1,1096.0 1686.3,1107.8 1686.6,1113.1C1686.8,1117.0 1687.0,1121.7 1687.2,1121.7C1687.4,1121.7 1687.7,1117.1 1687.9,1113.1C1688.2,1108.0 1688.5,1095.7 1688.8,1086.2C1689.1,1077.7 1689.3,1064.2 1689.6,1059.2C1690.0,1052.3 1690.3,1046.3 1690.7,1045.2C1691.3,1043.4 1691.9,1042.3 1692.5,1042.3C1693.4,1042.3 1694.3,1044.2 1695.2,1045.6C1696.5,1047.6 1697.7,1051.5 1699.0,1055.0C1700.2,1058.3 1701.4,1062.0 1702.6,1066.0C1703.7,1069.8 1704.9,1074.7 1706.0,1078.5C1706.9,1081.5 1707.8,1085.5 1708.7,1087.0C1709.4,1088.2 1710.2,1089.6 1710.9,1089.6C1711.6,1089.6 1712.3,1088.7 1713.0,1087.8C1714.1,1086.5 1715.1,1082.9 1716.2,1079.7C1717.5,1075.9 1718.7,1071.2 1720.0,1065.7C1720.9,1061.8 1721.8,1055.6 1722.7,1051.7C1723.2,1049.4 1723.8,1045.6 1724.3,1045.6C1725.2,1045.6 1726.1,1045.6 1727.0,1045.8C1727.4,1045.9 1727.7,1051.6 1728.1,1056.0C1728.4,1059.2 1728.6,1066.8 1728.9,1068.9C1729.3,1071.8 1729.6,1074.5 1730.0,1074.5C1730.4,1074.5 1730.9,1072.4 1731.3,1070.5C1731.8,1068.1 1732.4,1060.0 1732.9,1057.1C1733.6,1053.1 1734.4,1050.3 1735.1,1048.3C1736.2,1045.4 1737.2,1043.4 1738.3,1042.0C1739.4,1040.6 1740.4,1039.1 1741.5,1039.0C1742.4,1038.9 1743.3,1038.8 1744.2,1038.8C1745.1,1038.8 1746.0,1040.1 1746.9,1041.0C1748.0,1042.2 1749.1,1043.5 1750.2,1046.0C1750.9,1047.6 1751.6,1050.2 1752.3,1053.9C1752.7,1056.2 1753.2,1062.8 1753.6,1064.6C1754.1,1066.8 1754.7,1068.9 1755.2,1068.9C1755.7,1068.9 1756.1,1065.5 1756.6,1062.5C1757.0,1060.2 1757.3,1052.4 1757.7,1051.7C1758.2,1050.7 1758.8,1050.1 1759.3,1050.1C1760.2,1050.1 1761.1,1051.1 1762.0,1051.7C1763.4,1052.7 1764.9,1054.9 1766.3,1055.5C1768.1,1056.3 1769.9,1056.3 1771.7,1057.1C1772.8,1057.6 1773.8,1058.4 1774.9,1059.8C1775.8,1061.0 1776.7,1064.0 1777.6,1066.8C1778.5,1069.6 1779.4,1073.7 1780.3,1077.5C1781.0,1080.6 1781.8,1084.5 1782.5,1087.2C1783.2,1089.7 1783.9,1092.6 1784.6,1093.7C1785.3,1094.8 1786.1,1095.9 1786.8,1095.9C1787.5,1095.9 1788.2,1094.7 1788.9,1093.7C1789.6,1092.6 1790.4,1089.8 1791.1,1088.3C1791.6,1087.2 1792.2,1085.6 1792.7,1085.6C1793.6,1085.6 1794.5,1085.9 1795.4,1086.2C1796.5,1086.6 1797.5,1089.4 1798.6,1089.4C1799.0,1089.4 1799.5,1086.5 1799.9,1084.0C1800.4,1081.3 1800.8,1073.5 1801.3,1070.0C1801.8,1066.0 1802.4,1061.8 1802.9,1060.3C1803.5,1058.7 1804.0,1057.1 1804.6,1057.1C1804.9,1057.1 1805.3,1062.8 1805.6,1064.6C1806.1,1067.2 1806.5,1070.5 1807.0,1070.5C1807.4,1070.5 1807.9,1068.8 1808.3,1066.8C1808.7,1064.8 1809.2,1054.9 1809.6,1051.7C1810.1,1048.3 1810.5,1044.7 1811.0,1044.2C1811.7,1043.5 1812.5,1043.1 1813.2,1043.1C1813.7,1043.1 1814.3,1049.5 1814.8,1049.5C1815.3,1049.5 1815.9,1045.9 1816.4,1043.1C1816.9,1040.3 1817.5,1033.6 1818.0,1031.2C1818.7,1027.9 1819.5,1025.5 1820.2,1024.2C1820.9,1022.9 1821.6,1021.7 1822.3,1021.5C1823.2,1021.2 1824.1,1021.3 1825.0,1021.0C1825.7,1020.7 1826.5,1018.8 1827.2,1017.2C1827.7,1016.1 1828.3,1013.8 1828.8,1012.9C1829.4,1011.8 1830.1,1011.3 1830.7,1010.5"/></g>
<text class="title" x="807.4" y="1417.6" letter-spacing="0.1">Wavenumber/cm<tspan font-size="31" dy="-18.6" dx="0.6" letter-spacing="-0.8">-1</tspan></text>
<text class="title" transform="translate(80.4,810.3) rotate(-90)" x="0" y="0" letter-spacing="0.36">Transmittance%</text>
<line x1="1486.5" y1="79.3" x2="1582.8" y2="79.3" stroke="#ff0000" stroke-width="4.6" stroke-linecap="round"/><text class="leg" x="1593.5" y="93.4">MMT-1227</text>
<line x1="1486.5" y1="132.6" x2="1582.8" y2="132.6" stroke="#000000" stroke-width="4.6" stroke-linecap="round"/><text class="leg" x="1593.5" y="146.7">MMT</text>
<line x1="1486.5" y1="185.8" x2="1582.8" y2="185.8" stroke="#0000ff" stroke-width="4.6" stroke-linecap="round"/><text class="leg" x="1593.5" y="199.9">1227</text>
<text class="ann" x="492" y="356.8">2926.86</text>
<text class="ann" x="673" y="359">2852</text>
<text class="ann" x="282.5" y="762.6">3400</text>
<text class="ann" x="513" y="1244.6">2926.86</text>
<text class="ann" x="676" y="1189.8">2852</text>
<line x1="580.3" y1="314.4" x2="609.1" y2="278.7" stroke="#000" stroke-width="3.0"/><polygon points="631.6,250.9 614.9,285.9 600.9,274.6" fill="#000"/>
<line x1="719.9" y1="317.0" x2="695.3" y2="274.8" stroke="#000" stroke-width="3.0"/><polygon points="677.3,243.9 704.1,272.0 688.6,281.1" fill="#000"/>
<line x1="359.8" y1="720.9" x2="389.3" y2="684.3" stroke="#000" stroke-width="3.0"/><polygon points="411.7,656.4 395.0,691.5 381.0,680.2" fill="#000"/>
<line x1="585.3" y1="1203.0" x2="614.9" y2="1166.7" stroke="#000" stroke-width="3.0"/><polygon points="637.5,1139.0 620.6,1174.0 606.6,1162.6" fill="#000"/>
<line x1="719.4" y1="1145.6" x2="694.6" y2="1102.4" stroke="#000" stroke-width="3.0"/><polygon points="676.7,1071.4 703.4,1099.7 687.8,1108.7" fill="#000"/>
</svg>
</body>
</html>
